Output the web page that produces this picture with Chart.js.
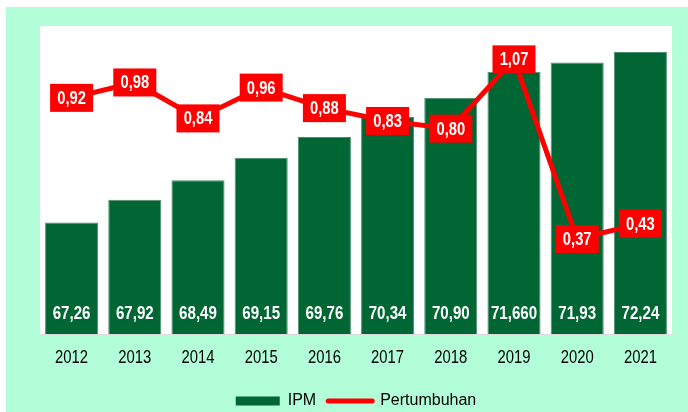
<!DOCTYPE html>
<html>
<head>
<meta charset="utf-8">
<script src="https://cdn.jsdelivr.net/npm/chart.js@4.4.1/dist/chart.umd.min.js"></script>
<style>
html,body{margin:0;padding:0;background:#fff;}
#wrap{position:relative;width:688px;height:412px;}
</style>
</head>
<body>
<div id="wrap"><canvas id="c" width="688" height="412"></canvas></div>
<script>
const years = ['2012','2013','2014','2015','2016','2017','2018','2019','2020','2021'];
const ipm = [67.26, 67.92, 68.49, 69.15, 69.76, 70.34, 70.90, 71.66, 71.93, 72.24];
const ipmLabels = ['67,26','67,92','68,49','69,15','69,76','70,34','70,90','71,660','71,93','72,24'];
const growth = [0.92, 0.98, 0.84, 0.96, 0.88, 0.83, 0.80, 1.07, 0.37, 0.43];
const growthLabels = ['0,92','0,98','0,84','0,96','0,88','0,83','0,80','1,07','0,37','0,43'];

const FONT = "'Liberation Sans',Arial,sans-serif";
const GREEN = '#006633';
const RED = '#ff0000';
const MINT = '#b1fed8';

function condText(ctx, txt, x, y, sx) {
  ctx.save();
  ctx.translate(x, y);
  ctx.scale(sx, 1);
  ctx.fillText(txt, 0, 0);
  ctx.restore();
}

const bgPlugin = {
  id: 'bg',
  beforeDraw(chart) {
    const ctx = chart.ctx, a = chart.chartArea;
    ctx.save();
    ctx.fillStyle = '#ffffff';
    ctx.fillRect(0, 0, chart.width, chart.height);
    ctx.fillStyle = MINT;
    ctx.fillRect(6, 7, chart.width - 6, chart.height - 7);
    ctx.fillStyle = '#ffffff';
    ctx.fillRect(a.left, a.top, a.right - a.left, a.bottom - a.top);
    ctx.restore();
  }
};

const labelPlugin = {
  id: 'vals',
  afterDatasetsDraw(chart) {
    const ctx = chart.ctx;
    const xs = chart.scales.x;
    ctx.save();
    ctx.textAlign = 'center';
    ctx.textBaseline = 'middle';
    ctx.font = "19px " + FONT;
    ctx.fillStyle = '#000000';
    years.forEach((y, i) => {
      condText(ctx, y, xs.getPixelForTick(i), chart.chartArea.bottom + 24, 0.78);
    });
    ctx.font = "bold 18px " + FONT;
    const barMeta = chart.getDatasetMeta(0);
    barMeta.data.forEach((el, i) => {
      ctx.fillStyle = '#ffffff';
      condText(ctx, ipmLabels[i], el.x, chart.chartArea.bottom - 20, 0.84);
    });
    const lineMeta = chart.getDatasetMeta(1);
    lineMeta.data.forEach((el, i) => {
      const w = 43, h = 28;
      ctx.fillStyle = RED;
      ctx.fillRect(el.x - w / 2, el.y - h / 2, w, h);
      ctx.fillStyle = '#ffffff';
      condText(ctx, growthLabels[i], el.x, el.y + 1, 0.82);
    });
    ctx.restore();
  }
};

new Chart(document.getElementById('c'), {
  data: {
    labels: years,
    datasets: [
      {
        type: 'bar',
        label: 'IPM',
        data: ipm,
        backgroundColor: GREEN,
        borderColor: '#4f8f6f',
        borderWidth: 1,
        barPercentage: 0.84,
        categoryPercentage: 1.0,
        yAxisID: 'y',
        order: 1
      },
      {
        type: 'line',
        label: 'Pertumbuhan',
        data: growth,
        borderColor: RED,
        backgroundColor: RED,
        borderWidth: 5,
        pointRadius: 0,
        tension: 0,
        yAxisID: 'y2',
        order: 0
      }
    ]
  },
  options: {
    responsive: false,
    animation: false,
    layout: { padding: { top: 26, left: 40, right: 16, bottom: -7 } },
    plugins: {
      tooltip: { enabled: false },
      legend: {
        position: 'bottom',
        labels: {
          font: { family: FONT, size: 16 },
          color: '#000',
          usePointStyle: true,
          pointStyleWidth: 44,
          boxHeight: 9,
          padding: 12,
          generateLabels() {
            return [
              { text: 'IPM', fillStyle: GREEN, strokeStyle: GREEN, lineWidth: 0, pointStyle: 'rect', datasetIndex: 0, fontColor: '#000' },
              { text: 'Pertumbuhan', fillStyle: RED, strokeStyle: RED, lineWidth: 5, lineCap: 'round', pointStyle: 'line', datasetIndex: 1, fontColor: '#000' }
            ];
          }
        }
      }
    },
    scales: {
      x: {
        grid: { display: false },
        border: { display: true, color: '#d9d9d9', width: 1 },
        ticks: { display: false },
        afterFit(s) { s.height = 47; }
      },
      y: { display: false, min: 64, max: 73 },
      y2: { display: false, min: 0, max: 1.2, position: 'right' }
    }
  },
  plugins: [bgPlugin, labelPlugin]
});
</script>
</body>
</html>
